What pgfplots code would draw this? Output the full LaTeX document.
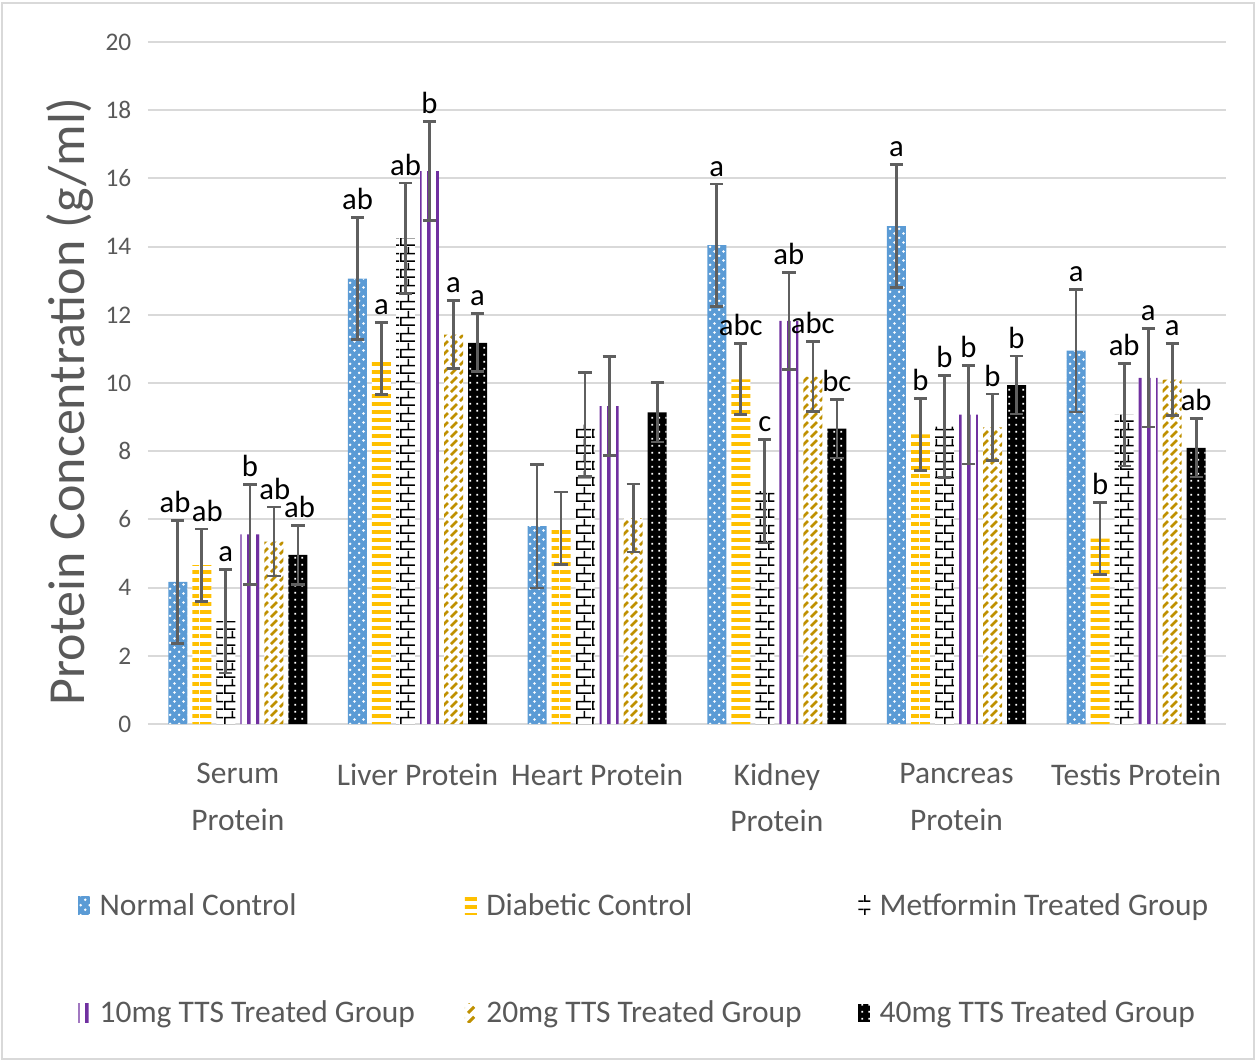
\documentclass[border=0pt]{standalone}
\usepackage{fontspec}
\setmainfont{Carlito}
\usepackage{pgfplots}
\pgfplotsset{compat=1.18}
\usepackage{pgfplotstable}
\usetikzlibrary{patterns}

\definecolor{ncblue}{HTML}{5B9BD5}
\definecolor{dcgold}{HTML}{FFC000}
\definecolor{tpurple}{HTML}{7030A0}
\definecolor{tgold}{HTML}{BF9000}
\definecolor{txtgray}{HTML}{595959}
\definecolor{gridgray}{HTML}{D9D9D9}
\definecolor{errgray}{HTML}{5F5F5F}

\pgfdeclarepatternformonly{ncdots}{\pgfqpoint{0pt}{0pt}}{\pgfqpoint{7pt}{7pt}}{\pgfqpoint{7pt}{7pt}}{%
  \pgfpathcircle{\pgfqpoint{1.75pt}{1.75pt}}{1.1pt}%
  \pgfpathcircle{\pgfqpoint{5.25pt}{5.25pt}}{1.1pt}%
  \pgfusepath{fill}}
\pgfdeclarepatternformonly{hstripes}{\pgfqpoint{0pt}{0pt}}{\pgfqpoint{30pt}{6pt}}{\pgfqpoint{30pt}{6pt}}{%
  \pgfpathrectangle{\pgfqpoint{0pt}{0pt}}{\pgfqpoint{30pt}{3.3pt}}\pgfusepath{fill}}
\pgfdeclarepatternformonly{brick}{\pgfqpoint{0pt}{0pt}}{\pgfqpoint{12pt}{12pt}}{\pgfqpoint{12pt}{12pt}}{%
  \pgfsetlinewidth{1.2pt}%
  \pgfpathmoveto{\pgfqpoint{0pt}{0.6pt}}\pgfpathlineto{\pgfqpoint{12pt}{0.6pt}}%
  \pgfpathmoveto{\pgfqpoint{0pt}{6.6pt}}\pgfpathlineto{\pgfqpoint{12pt}{6.6pt}}%
  \pgfpathmoveto{\pgfqpoint{0.6pt}{0.6pt}}\pgfpathlineto{\pgfqpoint{0.6pt}{6.6pt}}%
  \pgfpathmoveto{\pgfqpoint{6.6pt}{6.6pt}}\pgfpathlineto{\pgfqpoint{6.6pt}{12pt}}%
  \pgfusepath{stroke}}
\pgfdeclarepatternformonly{vstripes}{\pgfqpoint{0pt}{0pt}}{\pgfqpoint{6.4pt}{40pt}}{\pgfqpoint{6.4pt}{40pt}}{%
  \pgfpathrectangle{\pgfqpoint{0pt}{0pt}}{\pgfqpoint{2.8pt}{40pt}}\pgfusepath{fill}}
\pgfdeclarepatternformonly{ddash}{\pgfqpoint{0pt}{0pt}}{\pgfqpoint{7pt}{7pt}}{\pgfqpoint{7pt}{7pt}}{%
  \pgfsetlinewidth{2.2pt}\pgfsetbuttcap
  \pgfpathmoveto{\pgfqpoint{0.8pt}{0.8pt}}\pgfpathlineto{\pgfqpoint{5.6pt}{5.6pt}}%
  \pgfusepath{stroke}}
\pgfdeclarepatternformonly{wdots}{\pgfqpoint{0pt}{0pt}}{\pgfqpoint{5pt}{5pt}}{\pgfqpoint{5pt}{5pt}}{%
  \pgfpathrectangle{\pgfqpoint{1pt}{1pt}}{\pgfqpoint{1.4pt}{1.4pt}}\pgfusepath{fill}}

% x: 0 Serum, 1 Liver, 2 Heart, 3 Kidney, 4 Pancreas, 5 Testis; dx = small label offset
\pgfplotstableread{
x y e lab dx
0 4.17 1.80 ab -0.015
1 13.06 1.79 ab 0
2 5.80 1.81 - 0
3 14.04 1.80 a 0
4 14.60 1.80 a 0
5 10.95 1.80 a 0
}\tnormal
\pgfplotstableread{
x y e lab dx
0 4.66 1.06 ab 0.03
1 10.72 1.05 a 0
2 5.74 1.06 - 0
3 10.11 1.04 abc 0
4 8.49 1.05 b 0
5 5.44 1.05 b 0
}\tdiab
\pgfplotstableread{
x y e lab dx
0 3.02 1.52 a 0
1 14.25 1.62 ab 0
2 8.78 1.52 - 0
3 6.83 1.52 c 0
4 8.72 1.50 b 0
5 9.07 1.50 ab 0
}\tmet
\pgfplotstableread{
x y e lab dx
0 5.56 1.46 b 0
1 16.21 1.45 b 0
2 9.32 1.45 - 0
3 11.82 1.43 ab 0
4 9.07 1.45 b 0
5 10.15 1.44 a 0
}\tten
\pgfplotstableread{
x y e lab dx
0 5.35 1.01 ab 0.005
1 11.42 1.00 a 0
2 6.04 1.00 - 0
3 10.19 1.02 abc 0
4 8.70 0.98 b 0
5 10.10 1.05 a 0
}\ttwenty
\pgfplotstableread{
x y e lab dx
0 4.96 0.86 ab 0.01
1 11.18 0.85 a 0
2 9.14 0.87 - 0
3 8.66 0.86 bc 0
4 9.94 0.85 b 0
5 8.10 0.86 ab 0
}\tforty

\pgfplotsset{
  mybar/.style={ybar, bar width=0.1057, draw=none,
    legend image code/.code={\path[##1] (0pt,-7pt) rectangle (9pt,7pt);}},
  myerr/.style={only marks, mark=*, mark size=0pt, mark options={draw=none,fill=none}, forget plot,
    error bars/.cd, y dir=both, y explicit,
    error bar style={errgray, line width=2pt},
    error mark options={errgray, line width=2pt, mark size=5pt, rotate=90}},
  mylab/.style={only marks, mark=*, mark size=0pt, mark options={draw=none,fill=none},
    nodes near coords, point meta=explicit symbolic,
    nodes near coords style={anchor=south, inner sep=0pt, yshift=5.5pt, text=black,
      font=\fontsize{23}{25}\selectfont},
    skip coords between index={2}{3}, forget plot},
}

\begin{document}
\begin{tikzpicture}
\useasboundingbox (-111pt,-252.75pt) rectangle (831pt,543pt);
\draw[gridgray, line width=1.5pt] (-109.5pt,-251pt) rectangle (829.5pt,541pt);
\begin{axis}[
  at={(0,0)}, anchor=south west,
  scale only axis, width=808.5pt, height=511.5pt,
  xmin=-0.5, xmax=5.5, ymin=0, ymax=20,
  ytick={0,2,...,20},
  xtick={0,...,5},
  xticklabels={{Serum\\Protein},{Liver Protein},{Heart Protein},{Kidney\\Protein},{Pancreas\\Protein},{Testis Protein}},
  xticklabel style={align=center, font=\fontsize{23.6}{35}\selectfont, text=txtgray, anchor=north, yshift=-26pt},
  yticklabel style={font=\fontsize{19}{21}\selectfont, text=txtgray, xshift=-9pt},
  /pgf/number format/assume math mode=true,
  axis line style={draw=none},
  major tick length=0pt,
  ymajorgrids, grid style={gridgray, line width=1.5pt},
  clip=false,
  ylabel={Protein Concentration (g/ml)},
  every axis y label/.style={at={(axis description cs:-0.0724,0.473)}, rotate=90, anchor=center,
     font=\fontsize{39}{42}\selectfont, text=txtgray},
  legend style={at={(axis description cs:-0.0686,-0.240)}, anchor=north west, draw=none, fill=none,
    font=\fontsize{23.6}{28}\selectfont, text=txtgray,
    /tikz/every odd column/.style={column sep=5pt}, /tikz/row sep=59pt},
  legend columns=3,
  legend cell align=left,
]
\addplot[mybar, bar shift=-0.334, fill=ncblue, postaction={pattern=ncdots, pattern color=white}]
  table[x=x, y=y]{\tnormal};
\addlegendentry{\makebox[272pt][l]{Normal Control}}
\addplot[mybar, bar shift=-0.2004, fill=white, postaction={pattern=hstripes, pattern color=dcgold}]
  table[x=x, y=y]{\tdiab};
\addlegendentry{\makebox[277pt][l]{Diabetic Control}}
\addplot[mybar, bar shift=-0.0668, fill=white, postaction={pattern=brick, pattern color=black}]
  table[x=x, y=y]{\tmet};
\addlegendentry{Metformin Treated Group}
\addplot[mybar, bar shift=0.0668, fill=white, postaction={pattern=vstripes, pattern color=tpurple}]
  table[x=x, y=y]{\tten};
\addlegendentry{\makebox[272pt][l]{10mg TTS Treated Group}}
\addplot[mybar, bar shift=0.2004, fill=white, postaction={pattern=ddash, pattern color=tgold}]
  table[x=x, y=y]{\ttwenty};
\addlegendentry{\makebox[277pt][l]{20mg TTS Treated Group}}
\addplot[mybar, bar shift=0.334, fill=black, postaction={pattern=wdots, pattern color=white}]
  table[x=x, y=y]{\tforty};
\addlegendentry{40mg TTS Treated Group}

\addplot[myerr] table[x expr=\thisrow{x}-0.334, y=y, y error=e]{\tnormal};
\addplot[myerr] table[x expr=\thisrow{x}-0.2004, y=y, y error=e]{\tdiab};
\addplot[myerr] table[x expr=\thisrow{x}-0.0668, y=y, y error=e]{\tmet};
\addplot[myerr] table[x expr=\thisrow{x}+0.0668, y=y, y error=e]{\tten};
\addplot[myerr] table[x expr=\thisrow{x}+0.2004, y=y, y error=e]{\ttwenty};
\addplot[myerr] table[x expr=\thisrow{x}+0.334, y=y, y error=e]{\tforty};

\addplot[mylab] table[x expr=\thisrow{x}-0.334+\thisrow{dx}, y expr=\thisrow{y}+\thisrow{e}, meta=lab]{\tnormal};
\addplot[mylab] table[x expr=\thisrow{x}-0.2004+\thisrow{dx}, y expr=\thisrow{y}+\thisrow{e}, meta=lab]{\tdiab};
\addplot[mylab] table[x expr=\thisrow{x}-0.0668+\thisrow{dx}, y expr=\thisrow{y}+\thisrow{e}, meta=lab]{\tmet};
\addplot[mylab] table[x expr=\thisrow{x}+0.0668+\thisrow{dx}, y expr=\thisrow{y}+\thisrow{e}, meta=lab]{\tten};
\addplot[mylab] table[x expr=\thisrow{x}+0.2004+\thisrow{dx}, y expr=\thisrow{y}+\thisrow{e}, meta=lab]{\ttwenty};
\addplot[mylab] table[x expr=\thisrow{x}+0.334+\thisrow{dx}, y expr=\thisrow{y}+\thisrow{e}, meta=lab]{\tforty};
\end{axis}
\end{tikzpicture}
\end{document}
